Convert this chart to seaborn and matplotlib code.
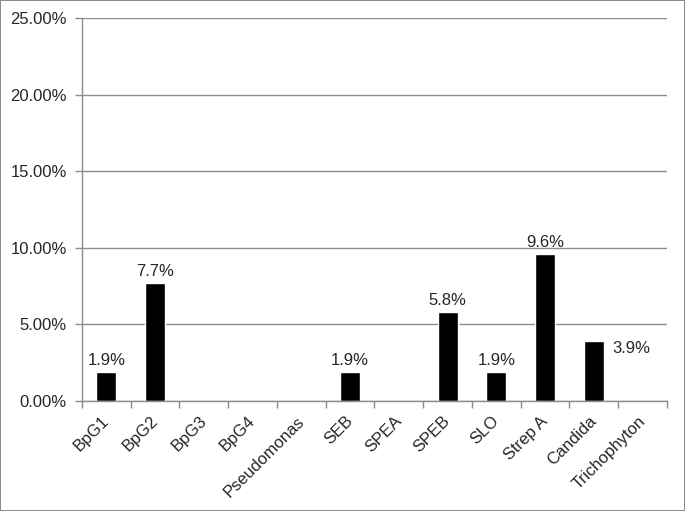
import numpy as np
import pandas as pd
import matplotlib
matplotlib.use("Agg")
import matplotlib.pyplot as plt
import matplotlib.transforms as mtransforms
import seaborn as sns

# Datos
categorias = ['BpG1', 'BpG2', 'BpG3', 'BpG4', 'Pseudomonas', 'SEB', 'SPEA',
              'SPEB', 'SLO', 'Strep A', 'Candida', 'Trichophyton']
porcentajes = [1.9, 7.7, 0, 0, 0, 1.9, 0, 5.8, 1.9, 9.6, 3.9, 0]
etiqueta_lado = ['Candida']   # etiquetas que van a la derecha de la barra
y_ticks = [0, 5, 10, 15, 20, 25]

sns.set_style('white')
plt.rcParams['font.family'] = ['Liberation Sans', 'DejaVu Sans']
plt.rcParams['font.size'] = 12

gris = '#8c8c8c'

fig = plt.figure(figsize=(6.85, 5.11), dpi=100, linewidth=1.2, edgecolor=gris)
ax = fig.add_axes([0.1197, 0.2153, 0.854, 0.7495])

df = pd.DataFrame({'cat': categorias, 'val': porcentajes})
sns.barplot(data=df, x='cat', y='val', color='black', width=0.41,
            saturation=1, ax=ax)

# Etiquetas de datos
for cat, val, bar in zip(categorias, porcentajes, ax.patches):
    if val == 0:
        continue
    xc = bar.get_x() + bar.get_width() / 2
    if cat in etiqueta_lado:
        ax.annotate(f'{val:.1f}%', (bar.get_x() + bar.get_width(), val),
                    xytext=(6, 0), textcoords='offset points',
                    ha='left', va='top', fontsize=12)
    else:
        ax.annotate(f'{val:.1f}%', (xc, val), xytext=(0, 3),
                    textcoords='offset points', ha='center', va='bottom',
                    fontsize=12)

# Ejes
ax.set_ylim(0, 25)
ax.set_xlim(-0.5, len(categorias) - 0.5)
ax.set_yticks(y_ticks)
ax.set_yticklabels([f'{t:.2f}%' for t in y_ticks])
ax.yaxis.grid(True, color=gris, linewidth=1)
ax.set_axisbelow(True)
ax.set_xlabel('')
ax.set_ylabel('')

ax.set_xticks(np.arange(len(categorias)))
ax.set_xticklabels(categorias, rotation=45, ha='right', rotation_mode='anchor')
ax.set_xticks(np.arange(len(categorias) + 1) - 0.5, minor=True)
ax.tick_params(axis='x', which='major', length=0, pad=9)
ax.tick_params(axis='x', which='minor', length=5, color=gris, width=1,
               bottom=True)
ax.tick_params(axis='y', length=5, color=gris, width=1, pad=6, left=True)

# mover un poco las etiquetas del eje x hacia la izquierda
desplazamiento = mtransforms.ScaledTranslation(-5 / 100, 0, fig.dpi_scale_trans)
for lbl in ax.get_xticklabels():
    lbl.set_transform(lbl.get_transform() + desplazamiento)

for lado in ['top', 'right']:
    ax.spines[lado].set_visible(False)
for lado in ['left', 'bottom']:
    ax.spines[lado].set_color(gris)
    ax.spines[lado].set_linewidth(1)

fig.savefig('out.png', dpi=100, edgecolor=fig.get_edgecolor())
